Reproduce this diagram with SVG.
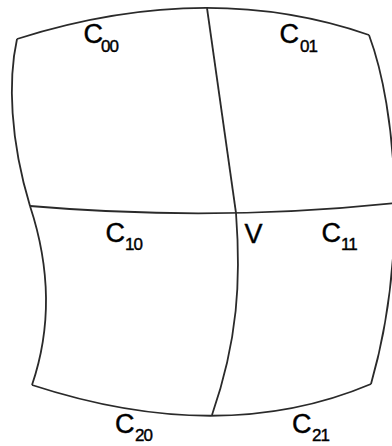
<svg xmlns="http://www.w3.org/2000/svg" width="392" height="446" viewBox="0 0 392 446">
<style>
.e{fill:none;stroke:#2a2a2a;stroke-width:1.8;stroke-linejoin:miter}
.t{font-family:"Liberation Sans",Arial,sans-serif;font-size:27px;fill:#000;stroke:#000;stroke-width:0.4}
.s{font-size:17px;letter-spacing:-1px}
</style>
<rect width="392" height="446" fill="#fff"/>
<g id="connectors">
<path class="e" d="M17,39 Q207,-21 369,35"/>
<path class="e" d="M17,39 C8,80 10,140 30,206"/>
<path class="e" d="M30,206 Q61,300 32,385"/>
<path class="e" d="M369,35 C397,110 408,255 371,384"/>
<path class="e" d="M32,385 Q222,447 371,384"/>
<path class="e" d="M30,206 Q215,222 395,203"/>
<path class="e" d="M207,8 L236,213"/>
<path class="e" d="M236,213 C241,280 238,340 212,415"/>
</g>
<g id="c00"><text class="t" x="83.5" y="43">C<tspan class="s" x="101" y="52">00</tspan></text></g>
<g id="c01"><text class="t" x="279.5" y="43">C<tspan class="s" x="300" y="52">01</tspan></text></g>
<g id="c10"><text class="t" x="105.5" y="242">C<tspan class="s" x="125" y="250">10</tspan></text></g>
<g id="v"><text class="t" x="244.5" y="243">V</text></g>
<g id="c11"><text class="t" x="321.5" y="242">C<tspan class="s" x="341" y="250">11</tspan></text></g>
<g id="c20"><text class="t" x="115" y="433">C<tspan class="s" x="135" y="441">20</tspan></text></g>
<g id="c21"><text class="t" x="292" y="433">C<tspan class="s" x="312" y="441">21</tspan></text></g>
</svg>
